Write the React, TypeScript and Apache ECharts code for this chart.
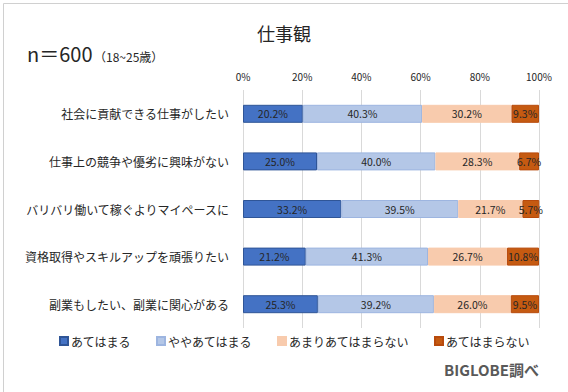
import React, { useEffect, useRef } from "react";
import * as echarts from "echarts";

const categories = [
  "社会に貢献できる仕事がしたい",
  "仕事上の競争や優劣に興味がない",
  "バリバリ働いて稼ぐよりマイペースに",
  "資格取得やスキルアップを頑張りたい",
  "副業もしたい、副業に関心がある",
];
const seriesNames = ["あてはまる", "ややあてはまる", "あまりあてはまらない", "あてはまらない"];
const atehamaru = [20.2, 25.0, 33.2, 21.2, 25.3];
const yayaAtehamaru = [40.3, 40.0, 39.5, 41.3, 39.2];
const amariAtehamaranai = [30.2, 28.3, 21.7, 26.7, 26.0];
const atehamaranai = [9.3, 6.7, 5.7, 10.8, 9.5];
const xTicks = [0, 20, 40, 60, 80, 100];

const colors = ["#4472C4", "#B4C7E7", "#F8CBAD", "#C55A11"];
const borders = ["#2F5597", "#9DB5E0", "#F8CBAD", "#B84A0C"];

const FONT = "'Noto Sans CJK JP', 'Noto Sans', sans-serif";

export default function App() {
  const ref = useRef<HTMLDivElement>(null);
  useEffect(() => {
    if (!ref.current) return;
    const chart = echarts.init(ref.current, undefined, { renderer: "svg" });
    const data = [atehamaru, yayaAtehamaru, amariAtehamaranai, atehamaranai];
    chart.setOption({
      animation: false,
      backgroundColor: "#ffffff",
      textStyle: { fontFamily: FONT },
      title: {
        text: "仕事観",
        left: "center",
        top: 19,
        textStyle: { fontSize: 18, fontWeight: "normal", color: "#262626", fontFamily: FONT },
      },
      graphic: [
        {
          type: "rect",
          left: 1,
          top: 1,
          shape: { width: 565, height: 389 },
          style: { fill: "none", stroke: "#D0D0D0", lineWidth: 1 },
        },
        {
          type: "text",
          left: 27,
          top: 43,
          style: { text: "n＝600", fontSize: 20, fill: "#262626", fontFamily: FONT },
        },
        {
          type: "text",
          left: 94,
          top: 50,
          style: { text: "（18~25歳）", fontSize: 12, fill: "#262626", fontFamily: FONT },
        },
        {
          type: "text",
          left: 444,
          top: 362,
          style: {
            text: "BIGLOBE調べ",
            fontSize: 15,
            fontWeight: "bold",
            fill: "#595959",
            fontFamily: FONT,
          },
        },
      ],
      legend: {
        left: 54,
        top: 330,
        itemWidth: 8,
        itemHeight: 8,
        itemGap: 25,
        icon: "rect",
        textStyle: { fontSize: 12, color: "#262626", fontFamily: FONT, padding: [0, 0, 0, -2] },
        data: seriesNames,
      },
      grid: { left: 243, right: 29, top: 90, bottom: 64, containLabel: false },
      xAxis: {
        type: "value",
        position: "top",
        min: 0,
        max: 100,
        interval: 20,
        axisLine: { show: false },
        axisTick: { show: false },
        axisLabel: {
          formatter: (v: number) => (xTicks.includes(v) ? v + "%" : ""),
          fontSize: 10,
          color: "#262626",
          margin: 9,
        },
        splitLine: { lineStyle: { color: "#D9D9D9", width: 1 } },
      },
      yAxis: {
        type: "category",
        data: categories,
        inverse: true,
        axisLine: { show: false },
        axisTick: { show: false },
        axisLabel: { fontSize: 12, color: "#262626", margin: 14 },
      },
      series: seriesNames.map((name, i) => ({
        name,
        type: "bar",
        stack: "total",
        barWidth: 18,
        data: data[i],
        itemStyle: { color: colors[i], borderColor: borders[i], borderWidth: 1 },
        label: {
          show: true,
          position: "inside",
          formatter: (p: any) => p.value.toFixed(1) + "%",
          fontSize: 10.5,
          color: "#262626",
        },
      })),
    });
    return () => chart.dispose();
  }, []);
  return (
    <div
      ref={ref}
      style={{ position: "fixed", left: 0, top: 0, width: 568, height: 392 }}
    />
  );
}
